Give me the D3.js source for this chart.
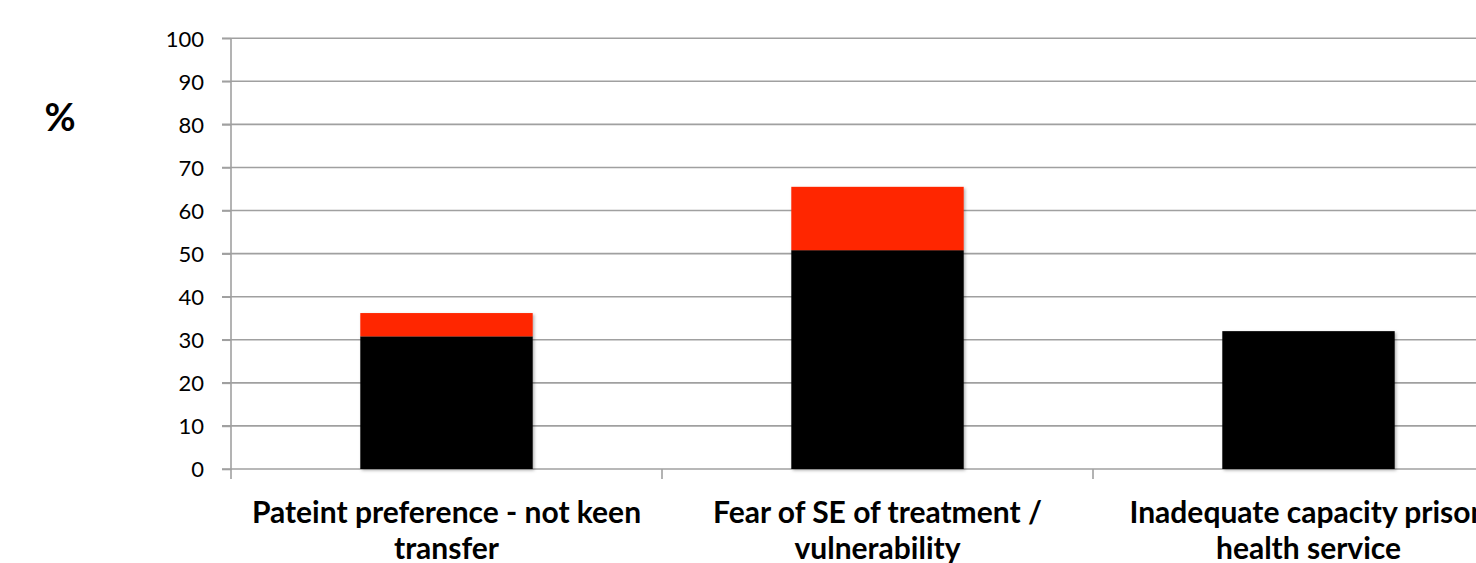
<!DOCTYPE html>
<html>
<head>
<meta charset="utf-8">
<script src="https://cdn.jsdelivr.net/npm/d3@7"></script>
<style>
  html, body { margin: 0; padding: 0; background: #fff; overflow: hidden; }
  svg { display: block; }
</style>
</head>
<body>
<svg id="chart" width="1476" height="563"></svg>
<script>
// Category labels (each split into its two display lines)
const categories = [
  "Pateint preference - not keen transfer",
  "Fear of SE of treatment / vulnerability",
  "Inadequate capacity prison health service"
];
const labelLines = [
  ["Pateint preference - not keen", "transfer"],
  ["Fear of SE of treatment /", "vulnerability"],
  ["Inadequate capacity prison", "health service"]
];
// Stacked series values (%)
const blackValues = [30.8, 50.8, 32.0];
const redValues = [5.4, 14.7, 0];
const seriesNames = ["base", "extra"];
const seriesColors = ["#000000", "#ff2600"];
const yTicks = [0, 10, 20, 30, 40, 50, 60, 70, 80, 90, 100];

const svg = d3.select("#chart");
const font = "Lato, 'Open Sans', sans-serif";

const x = d3.scaleBand()
  .domain(categories)
  .range([231, 1524])
  .paddingInner(0.6)
  .paddingOuter(0.3);

const y = d3.scaleLinear().domain([0, 100]).range([469, 38.2]);

// Drop shadow for bars
const defs = svg.append("defs");
const f = defs.append("filter").attr("id", "shadow")
  .attr("x", "-5%").attr("y", "-5%").attr("width", "115%").attr("height", "115%");
f.append("feDropShadow").attr("dx", 1.5).attr("dy", 1.5)
  .attr("stdDeviation", 1.5).attr("flood-color", "#000").attr("flood-opacity", 0.3);

// Horizontal gridlines
svg.append("g").selectAll("line").data(yTicks.filter(d => d > 0)).join("line")
  .attr("x1", 222).attr("x2", 1476)
  .attr("y1", d => y(d)).attr("y2", d => y(d))
  .attr("stroke", "#a0a0a0").attr("stroke-width", 1.6);

// Y axis
const yAxis = svg.append("g").attr("transform", "translate(231,0)")
  .call(d3.axisLeft(y).tickValues(yTicks).tickSize(9).tickPadding(18));
yAxis.select(".domain").attr("stroke", "#a0a0a0").attr("stroke-width", 1.6)
  .attr("d", `M0,${y(100)}V${y(0) + 1}`);
yAxis.selectAll(".tick line").attr("stroke", "#a0a0a0").attr("stroke-width", 1.6);
yAxis.selectAll(".tick text").attr("font-family", font).attr("font-size", 22)
  .attr("fill", "#000").attr("dy", "0.36em");

// X axis baseline with category separator ticks
const bounds = [231, 231 + x.step(), 231 + 2 * x.step(), 231 + 3 * x.step()];
svg.append("line").attr("x1", 222).attr("x2", 1476)
  .attr("y1", y(0)).attr("y2", y(0))
  .attr("stroke", "#a0a0a0").attr("stroke-width", 1.6);
svg.append("g").selectAll("line").data(bounds).join("line")
  .attr("x1", d => d).attr("x2", d => d)
  .attr("y1", y(0)).attr("y2", y(0) + 10)
  .attr("stroke", "#a0a0a0").attr("stroke-width", 1.6);

// Stacked bars
const rows = categories.map((c, i) => ({ cat: c, base: blackValues[i], extra: redValues[i] }));
const stacked = d3.stack().keys(seriesNames)(rows);
svg.append("g").selectAll("g").data(stacked).join("g")
  .attr("fill", (d, i) => seriesColors[i])
  .selectAll("rect").data(d => d.filter(p => p[1] - p[0] > 0)).join("rect")
  .attr("x", d => x(d.data.cat))
  .attr("width", x.bandwidth())
  .attr("y", d => y(d[1]))
  .attr("height", d => y(d[0]) - y(d[1]))
  .attr("filter", "url(#shadow)");

// Category labels
const lbl = svg.append("g").selectAll("text").data(categories).join("text")
  .attr("text-anchor", "middle")
  .attr("font-family", font).attr("font-weight", "bold").attr("font-size", 30)
  .attr("fill", "#000");
lbl.each(function (d, i) {
  const t = d3.select(this);
  const cx = x(d) + x.bandwidth() / 2;
  labelLines[i].forEach((line, j) => {
    t.append("tspan").attr("x", cx).attr("y", 523 + j * 36).text(line);
  });
});

// Axis unit label
svg.append("text").attr("x", 60).attr("y", 131)
  .attr("text-anchor", "middle")
  .attr("font-family", font).attr("font-weight", "bold").attr("font-size", 38)
  .attr("fill", "#000").text("%");
</script>
</body>
</html>
